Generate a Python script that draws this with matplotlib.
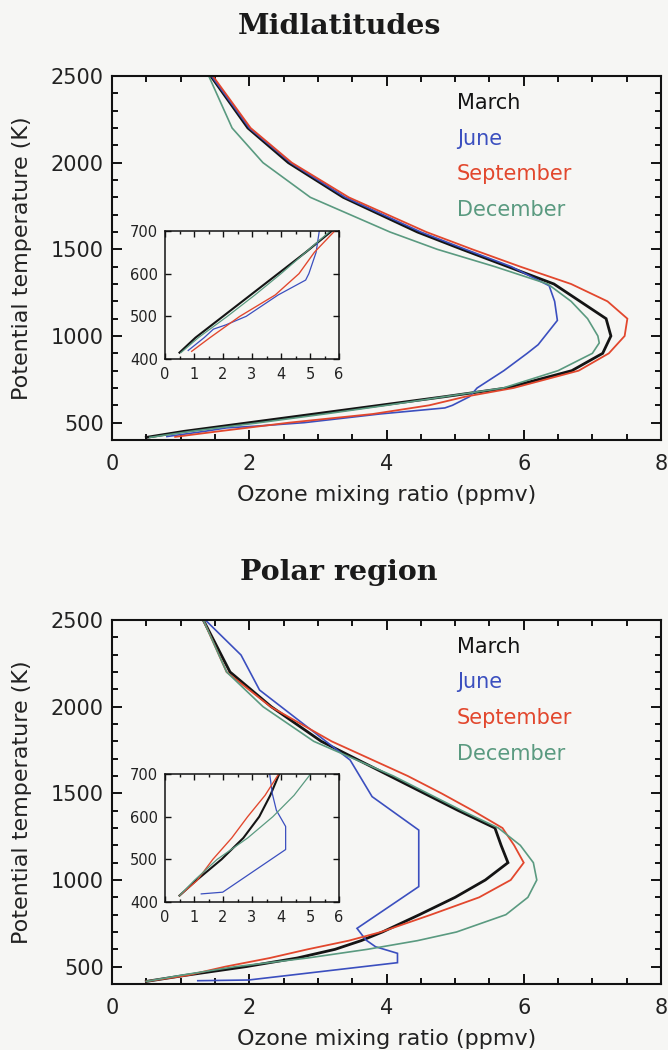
import matplotlib
matplotlib.use("Agg")
import matplotlib.pyplot as plt
from matplotlib.ticker import MultipleLocator, FixedLocator

# ---------------- data: ozone mixing ratio (ppmv) vs potential temperature (K)
months = ["March", "June", "September", "December"]
month_colors = ["#141414", "#3b4fbf", "#e2472d", "#5a9a80"]
month_widths = [2.0, 1.2, 1.3, 1.2]

# Midlatitudes
mid_march_theta = [415, 450, 500, 550, 600, 650, 700, 800, 900, 1000, 1100, 1200, 1300, 1400, 1500, 1600, 1800, 2000, 2200, 2500]
mid_march_o3 = [0.50, 1.05, 2.00, 2.95, 3.90, 4.85, 5.75, 6.70, 7.15, 7.27, 7.20, 6.82, 6.44, 5.77, 5.10, 4.45, 3.37, 2.57, 1.98, 1.44]

mid_june_theta = [420, 450, 470, 480, 500, 550, 585, 600, 650, 700, 800, 900, 950, 1000, 1090, 1200, 1290, 1400, 1500, 1600, 1800, 2000, 2200, 2500]
mid_june_o3 = [0.80, 1.35, 1.67, 2.10, 2.80, 3.90, 4.85, 4.96, 5.21, 5.32, 5.71, 6.05, 6.21, 6.31, 6.49, 6.45, 6.37, 5.82, 5.15, 4.50, 3.40, 2.60, 2.00, 1.45]

mid_sep_theta = [418, 450, 500, 550, 600, 650, 700, 800, 900, 1000, 1100, 1200, 1300, 1400, 1500, 1600, 1800, 2000, 2200, 2500]
mid_sep_o3 = [0.92, 1.55, 2.58, 3.80, 4.62, 5.15, 5.85, 6.80, 7.24, 7.47, 7.51, 7.22, 6.69, 5.95, 5.25, 4.58, 3.45, 2.62, 2.02, 1.47]

mid_dec_theta = [415, 450, 500, 550, 600, 650, 700, 800, 900, 960, 1000, 1100, 1200, 1300, 1400, 1500, 1600, 1800, 2000, 2200, 2500]
mid_dec_o3 = [0.55, 1.15, 2.15, 3.10, 4.00, 4.85, 5.70, 6.50, 7.00, 7.10, 7.08, 6.93, 6.69, 6.35, 5.58, 4.74, 4.05, 2.89, 2.20, 1.75, 1.41]

# Polar region
pol_march_theta = [415, 450, 500, 550, 600, 650, 700, 800, 900, 1000, 1100, 1200, 1300, 1400, 1500, 1600, 1800, 2000, 2200, 2500]
pol_march_o3 = [0.50, 1.07, 1.95, 2.70, 3.25, 3.63, 3.94, 4.48, 5.00, 5.44, 5.77, 5.67, 5.58, 5.05, 4.55, 4.05, 3.05, 2.32, 1.72, 1.33]

pol_june_theta = [419, 423, 523, 577, 615, 654, 721, 962, 1288, 1481, 1692, 1900, 2096, 2298, 2500]
pol_june_o3 = [1.25, 1.99, 4.16, 4.16, 3.84, 3.70, 3.57, 4.47, 4.47, 3.79, 3.47, 2.79, 2.15, 1.88, 1.36]

pol_sep_theta = [415, 450, 500, 550, 600, 650, 700, 800, 900, 1000, 1100, 1200, 1300, 1400, 1500, 1600, 1800, 2000, 2200, 2500]
pol_sep_o3 = [0.50, 1.10, 1.65, 2.30, 2.85, 3.45, 3.92, 4.65, 5.35, 5.81, 6.00, 5.86, 5.69, 5.26, 4.80, 4.31, 3.20, 2.31, 1.67, 1.33]

pol_dec_theta = [415, 450, 500, 550, 600, 650, 700, 800, 900, 1000, 1100, 1200, 1300, 1400, 1600, 1800, 2000, 2200, 2500]
pol_dec_o3 = [0.50, 1.00, 1.80, 2.85, 3.72, 4.45, 5.02, 5.74, 6.06, 6.19, 6.14, 5.95, 5.63, 5.10, 4.10, 2.94, 2.20, 1.67, 1.33]

main_xticks = [0, 2, 4, 6, 8]
main_yticks = [500, 1000, 1500, 2000, 2500]
inset_xticks = [0, 1, 2, 3, 4, 5, 6]
inset_yticks = [400, 500, 600, 700]

panels = [
    ("Midlatitudes",
     [(mid_march_theta, mid_march_o3), (mid_june_theta, mid_june_o3),
      (mid_sep_theta, mid_sep_o3), (mid_dec_theta, mid_dec_o3)]),
    ("Polar region",
     [(pol_march_theta, pol_march_o3), (pol_june_theta, pol_june_o3),
      (pol_sep_theta, pol_sep_o3), (pol_dec_theta, pol_dec_o3)]),
]

# ---------------- layout (pixel geometry of a 668 x 1050 canvas)
W, H = 668, 1050
BG = "#f6f6f4"
fig = plt.figure(figsize=(W / 100, H / 100), dpi=100, facecolor=BG)

def fx(px):
    return px / W

def fy(py):
    return 1 - py / H

main_top = [76, 620]
inset_top = [231, 774]
title_y = [27, 572]
ax_left, ax_right = 112, 661
ax_h = 364
in_left, in_right, in_h = 165, 339, 128

for k, (title, series) in enumerate(panels):
    t0 = main_top[k]
    ax = fig.add_axes([fx(ax_left), fy(t0 + ax_h), fx(ax_right - ax_left), ax_h / H])
    ax.set_facecolor(BG)
    for (th, o3), c, lw in zip(series, month_colors, month_widths):
        ax.plot(o3, th, color=c, lw=lw, solid_joinstyle="miter")
    ax.set_xlim(0, 8)
    ax.set_ylim(400, 2500)
    ax.xaxis.set_major_locator(FixedLocator(main_xticks))
    ax.yaxis.set_major_locator(FixedLocator(main_yticks))
    ax.xaxis.set_minor_locator(MultipleLocator(0.5))
    ax.yaxis.set_minor_locator(MultipleLocator(100))
    ax.tick_params(which="both", direction="in", top=True, right=True,
                   width=1.4, color="#111111", labelsize=15, labelcolor="#222222")
    ax.tick_params(which="major", length=7.5)
    ax.tick_params(which="minor", length=4.2)
    ax.tick_params(axis="x", pad=10)
    ax.tick_params(axis="y", pad=6)
    for s in ax.spines.values():
        s.set_linewidth(1.5)
        s.set_color("#111111")

    # zoom on the lowest layers
    i0 = inset_top[k]
    axi = fig.add_axes([fx(in_left), fy(i0 + in_h), fx(in_right - in_left), in_h / H])
    axi.set_facecolor(BG)
    for (th, o3), c, lw in zip(series, month_colors, month_widths):
        axi.plot(o3, th, color=c, lw=lw * 0.75)
    axi.set_xlim(0, 6)
    axi.set_ylim(400, 700)
    axi.xaxis.set_major_locator(FixedLocator(inset_xticks))
    axi.yaxis.set_major_locator(FixedLocator(inset_yticks))
    axi.xaxis.set_minor_locator(MultipleLocator(0.5))
    axi.tick_params(which="both", direction="in", top=True, right=True,
                    width=1.0, color="#111111", labelsize=10.5, labelcolor="#222222")
    axi.tick_params(which="major", length=4.5)
    axi.tick_params(which="minor", length=2.5)
    axi.tick_params(axis="x", pad=6)
    axi.tick_params(axis="y", pad=5)
    for s in axi.spines.values():
        s.set_linewidth(1.1)
        s.set_color("#111111")

    # panel title, axis titles and month key
    fig.text(fx(339), fy(title_y[k]), title, family="DejaVu Serif", weight="bold",
             size=20.5, ha="center", va="center", color="#1a1a1a")
    fig.text(fx(22), fy(t0 + ax_h / 2), "Potential temperature (K)", rotation=90,
             size=16, ha="center", va="center", color="#222222")
    fig.text(fx((ax_left + ax_right) / 2), fy(t0 + ax_h + 55), "Ozone mixing ratio (ppmv)",
             size=16, ha="center", va="center", color="#222222")
    for j, (m, c) in enumerate(zip(months, month_colors)):
        fig.text(fx(457), fy(t0 + 27 + 35.5 * j), m, color=c, size=15,
                 ha="left", va="center")

fig.savefig("out.png", dpi=100, facecolor=BG)
